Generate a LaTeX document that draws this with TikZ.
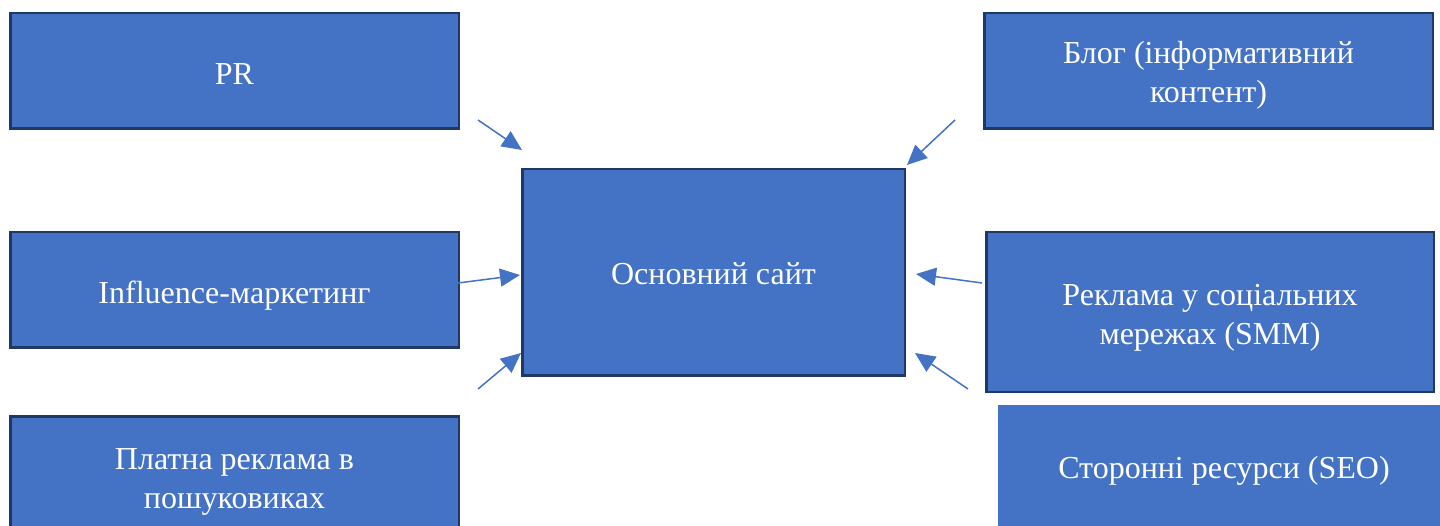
\documentclass[tikz,border=0pt]{standalone}
\usepackage{fontspec}
\setmainfont{Liberation Serif}
\usetikzlibrary{arrows.meta}

\definecolor{boxblue}{HTML}{4472C4}
\definecolor{boxedge}{HTML}{1F3864}

\begin{document}
\begin{tikzpicture}[x=1pt, y=-1pt,
    block/.style={fill=boxblue, draw=boxedge, line width=2.5pt, inner sep=0pt},
    flat/.style={block, draw=none},
    caption/.style={text=white, align=center, inner sep=0pt, yshift=-4pt,
        font=\fontsize{32}{39}\selectfont},
    feed/.style={draw=boxblue, line width=1.5pt, -{Triangle[length=20pt, width=18pt]}}]
    \clip (0,0) rectangle (1440,526);

    % sources on the left
    \node[block, minimum width=448.5, minimum height=115.5,
        label={[caption, yshift=1pt]center:PR}] (pr) at (234.5,71) {};
    \node[block, minimum width=448.5, minimum height=115.5,
        label={[caption, yshift=-2pt]center:Influence-маркетинг}] (influence) at (234.5,290) {};
    \node[block, minimum width=448.5, minimum height=123.5,
        label={[caption]center:Платна реклама в\\пошуковиках}] (ads) at (234.5,478) {};

    % sources on the right
    \node[block, minimum width=448.5, minimum height=115.5,
        label={[caption]center:Блог (інформативний\\контент)}] (blog) at (1208.5,71) {};
    \node[block, minimum width=447.5, minimum height=159.5,
        label={[caption, yshift=-2pt]center:Реклама у соціальних\\мережах (SMM)}] (smm) at (1210,312) {};
    \node[flat, minimum width=452, minimum height=124,
        label={[caption]center:Сторонні ресурси (SEO)}] (seo) at (1224,467) {};

    % the main site
    \node[block, minimum width=382.5, minimum height=206.5,
        label={[caption, yshift=3pt]center:Основний сайт}] (site) at (713.5,272.5) {};

    \coordinate (pr-out) at (478,120);
    \coordinate (pr-in) at (522,150);
    \coordinate (blog-out) at (955,120);
    \coordinate (blog-in) at (907,165);
    \coordinate (influence-out) at (458,283);
    \coordinate (influence-in) at (520,275);
    \coordinate (smm-out) at (982,283);
    \coordinate (smm-in) at (916,274);
    \coordinate (ads-out) at (478,389);
    \coordinate (ads-in) at (521,353);
    \coordinate (seo-out) at (968,389);
    \coordinate (seo-in) at (915,353);

    \draw[feed] (pr-out) -- (pr-in);
    \draw[feed] (blog-out) -- (blog-in);
    \draw[feed] (influence-out) -- (influence-in);
    \draw[feed] (smm-out) -- (smm-in);
    \draw[feed] (ads-out) -- (ads-in);
    \draw[feed] (seo-out) -- (seo-in);
\end{tikzpicture}
\end{document}
